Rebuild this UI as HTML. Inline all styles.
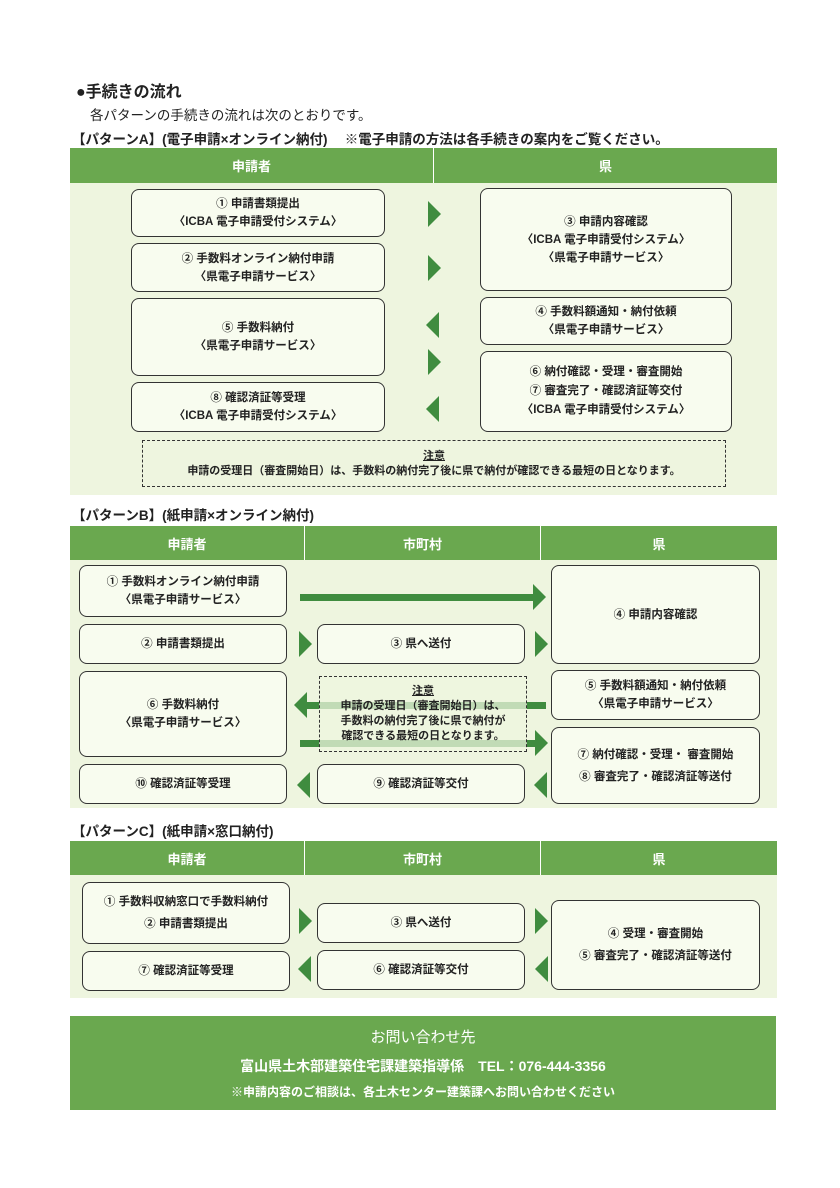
<!DOCTYPE html>
<html><head><meta charset="utf-8"><style>
body{margin:0;background:#fff;}
#p{position:relative;width:840px;height:1188px;font-family:"Liberation Sans","Noto Sans CJK JP",sans-serif;color:#222;font-weight:bold;}
.a{position:absolute;}
.bg{position:absolute;background:#eef5df;}
.hd{position:absolute;background:#6aa84f;color:#fff;font-size:13px;display:flex;align-items:center;justify-content:center;}
.bx{position:absolute;box-sizing:border-box;border:1.5px solid #333;border-radius:8px;background:#f8fcef;display:flex;flex-direction:column;align-items:center;justify-content:center;font-size:11.5px;line-height:18px;text-align:center;}
.r{width:0;height:0;position:absolute;border-top:13px solid transparent;border-bottom:13px solid transparent;border-left:13px solid #3f8c3f;}
.l{width:0;height:0;position:absolute;border-top:13px solid transparent;border-bottom:13px solid transparent;border-right:13px solid #3f8c3f;}
.sh{position:absolute;background:#3f8c3f;height:7px;}
.nt{position:absolute;box-sizing:border-box;border:1.5px dashed #333;font-size:11px;line-height:15px;text-align:center;display:flex;flex-direction:column;justify-content:center;}
.t{position:absolute;font-size:13.5px;}
</style></head><body><div id="p">
<div class="t" style="left:76px;top:78px;font-size:16px;">●手続きの流れ</div>
<div class="t" style="left:90px;top:104px;font-weight:normal;">各パターンの手続きの流れは次のとおりです。</div>
<div class="t" style="left:72px;top:128px;">【パターンA】(電子申請×オンライン納付)　 ※電子申請の方法は各手続きの案内をご覧ください。</div>

<div class="bg" style="left:70px;top:183px;width:707px;height:312px;"></div>
<div class="hd" style="left:70px;top:148px;width:363px;height:35px;">申請者</div>
<div class="hd" style="left:434px;top:148px;width:343px;height:35px;">県</div>
<div class="bx" style="left:131px;top:189px;width:254px;height:48px;"><div>① 申請書類提出</div><div>〈ICBA 電子申請受付システム〉</div></div>
<div class="bx" style="left:131px;top:243px;width:254px;height:49px;"><div>② 手数料オンライン納付申請</div><div>〈県電子申請サービス〉</div></div>
<div class="bx" style="left:131px;top:298px;width:254px;height:78px;"><div>⑤ 手数料納付</div><div>〈県電子申請サービス〉</div></div>
<div class="bx" style="left:131px;top:382px;width:254px;height:50px;"><div>⑧ 確認済証等受理</div><div>〈ICBA 電子申請受付システム〉</div></div>
<div class="bx" style="left:480px;top:188px;width:252px;height:103px;"><div>③ 申請内容確認</div><div>〈ICBA 電子申請受付システム〉</div><div>〈県電子申請サービス〉</div></div>
<div class="bx" style="left:480px;top:297px;width:252px;height:48px;"><div>④ 手数料額通知・納付依頼</div><div>〈県電子申請サービス〉</div></div>
<div class="bx" style="left:480px;top:351px;width:252px;height:81px;line-height:19px;"><div>⑥ 納付確認・受理・審査開始</div><div>⑦ 審査完了・確認済証等交付</div><div>〈ICBA 電子申請受付システム〉</div></div>
<div class="r" style="left:428px;top:201px;"></div>
<div class="r" style="left:428px;top:255px;"></div>
<div class="l" style="left:426px;top:312px;"></div>
<div class="r" style="left:428px;top:349px;"></div>
<div class="l" style="left:426px;top:396px;"></div>
<div class="nt" style="left:142px;top:440px;width:584px;height:47px;"><div style="text-decoration:underline;">注意</div><div>申請の受理日（審査開始日）は、手数料の納付完了後に県で納付が確認できる最短の日となります。</div></div>

<div class="t" style="left:72px;top:504px;">【パターンB】(紙申請×オンライン納付)</div>
<div class="bg" style="left:70px;top:560px;width:707px;height:248px;"></div>
<div class="hd" style="left:70px;top:526px;width:234px;height:34px;">申請者</div>
<div class="hd" style="left:305px;top:526px;width:235px;height:34px;">市町村</div>
<div class="hd" style="left:541px;top:526px;width:236px;height:34px;">県</div>
<div class="bx" style="left:79px;top:565px;width:208px;height:52px;"><div>① 手数料オンライン納付申請</div><div>〈県電子申請サービス〉</div></div>
<div class="bx" style="left:79px;top:624px;width:208px;height:40px;"><div>② 申請書類提出</div></div>
<div class="bx" style="left:79px;top:671px;width:208px;height:86px;"><div>⑥ 手数料納付</div><div>〈県電子申請サービス〉</div></div>
<div class="bx" style="left:79px;top:764px;width:208px;height:40px;"><div>⑩ 確認済証等受理</div></div>
<div class="bx" style="left:317px;top:624px;width:208px;height:40px;"><div>③ 県へ送付</div></div>
<div class="bx" style="left:317px;top:764px;width:208px;height:40px;"><div>⑨ 確認済証等交付</div></div>
<div class="bx" style="left:551px;top:565px;width:209px;height:99px;"><div>④ 申請内容確認</div></div>
<div class="bx" style="left:551px;top:670px;width:209px;height:50px;"><div>⑤ 手数料額通知・納付依頼</div><div>〈県電子申請サービス〉</div></div>
<div class="bx" style="left:551px;top:727px;width:209px;height:77px;line-height:22px;"><div>⑦ 納付確認・受理・ 審査開始</div><div>⑧ 審査完了・確認済証等送付</div></div>
<div class="sh" style="left:300px;top:594px;width:234px;"></div>
<div class="r" style="left:533px;top:584px;"></div>
<div class="r" style="left:299px;top:631px;"></div>
<div class="r" style="left:535px;top:631px;"></div>
<div class="sh" style="left:306px;top:702px;width:240px;"></div>
<div class="l" style="left:294px;top:692px;"></div>
<div class="sh" style="left:300px;top:740px;width:236px;"></div>
<div class="r" style="left:535px;top:730px;"></div>
<div class="l" style="left:534px;top:772px;"></div>
<div class="l" style="left:297px;top:772px;"></div>
<div class="nt" style="left:319px;top:676px;width:208px;height:76px;background:rgba(238,245,223,0.75);"><div style="text-decoration:underline;">注意</div><div>申請の受理日（審査開始日）は、</div><div>手数料の納付完了後に県で納付が</div><div>確認できる最短の日となります。</div></div>

<div class="t" style="left:72px;top:820px;">【パターンC】(紙申請×窓口納付)</div>
<div class="bg" style="left:70px;top:875px;width:707px;height:123px;"></div>
<div class="hd" style="left:70px;top:841px;width:234px;height:34px;">申請者</div>
<div class="hd" style="left:305px;top:841px;width:235px;height:34px;">市町村</div>
<div class="hd" style="left:541px;top:841px;width:236px;height:34px;">県</div>
<div class="bx" style="left:82px;top:882px;width:208px;height:62px;line-height:22px;"><div>① 手数料収納窓口で手数料納付</div><div>② 申請書類提出</div></div>
<div class="bx" style="left:82px;top:951px;width:208px;height:40px;"><div>⑦ 確認済証等受理</div></div>
<div class="bx" style="left:317px;top:903px;width:208px;height:40px;"><div>③ 県へ送付</div></div>
<div class="bx" style="left:317px;top:950px;width:208px;height:40px;"><div>⑥ 確認済証等交付</div></div>
<div class="bx" style="left:551px;top:900px;width:209px;height:90px;line-height:22px;"><div>④ 受理・審査開始</div><div>⑤ 審査完了・確認済証等送付</div></div>
<div class="r" style="left:299px;top:908px;"></div>
<div class="r" style="left:535px;top:908px;"></div>
<div class="l" style="left:535px;top:956px;"></div>
<div class="l" style="left:298px;top:956px;"></div>

<div class="a" style="left:70px;top:1016px;width:706px;height:94px;background:#6aa84f;color:#fff;text-align:center;">
<div style="font-size:15px;margin-top:10px;font-weight:normal;">お問い合わせ先</div>
<div style="font-size:14px;margin-top:9px;">富山県土木部建築住宅課建築指導係　TEL：076-444-3356</div>
<div style="font-size:12px;margin-top:7px;">※申請内容のご相談は、各土木センター建築課へお問い合わせください</div>
</div>
</div></body></html>
